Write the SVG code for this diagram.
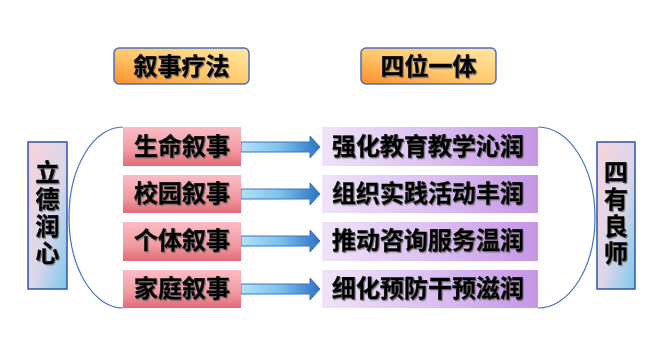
<svg xmlns="http://www.w3.org/2000/svg" width="664" height="360" viewBox="0 0 664 360">
<defs>
<linearGradient id="gTop" x1="0" y1="1" x2="1" y2="0">
<stop offset="0" stop-color="#f98d2c"/><stop offset="0.45" stop-color="#ffc66a"/><stop offset="1" stop-color="#ffe7a0"/>
</linearGradient>
<linearGradient id="gSide" x1="0" y1="0" x2="1" y2="1">
<stop offset="0" stop-color="#f7d3da"/><stop offset="0.55" stop-color="#dcd6ea"/><stop offset="1" stop-color="#7cc8ea"/>
</linearGradient>
<linearGradient id="gPink" x1="0" y1="0" x2="0" y2="1">
<stop offset="0" stop-color="#fbbcc4"/><stop offset="0.6" stop-color="#f19aa3"/><stop offset="1" stop-color="#e26a74"/>
</linearGradient>
<linearGradient id="gPurple" x1="0" y1="0" x2="1" y2="0">
<stop offset="0" stop-color="#efe3f8"/><stop offset="0.5" stop-color="#dcc0f2"/><stop offset="1" stop-color="#c596e6"/>
</linearGradient>
<linearGradient id="gArrow" x1="0" y1="0" x2="1" y2="0">
<stop offset="0" stop-color="#b4e2f6"/><stop offset="0.5" stop-color="#7cc0ea"/><stop offset="1" stop-color="#2a72c6"/>
</linearGradient>
<filter id="sh" x="-10%" y="-10%" width="120%" height="130%">
<feDropShadow dx="1" dy="1.2" stdDeviation="0.6" flood-color="#666" flood-opacity="0.8"/>
</filter>
<path id="arrow" d="M0,-5 H69 V-11 L79,0 L69,11 V5 H0 Z"/>
</defs>
<style>
text{font-family:"Noto Sans CJK SC","Noto Sans CJK JP",sans-serif;font-weight:700;fill:#000;stroke:#000;stroke-width:0.45;filter:url(#sh)}
.t{font-size:24px;text-anchor:middle}
.v{font-size:24px;writing-mode:vertical-rl;letter-spacing:3px}
.top{fill:url(#gTop);stroke:#4c6db8;stroke-width:1.5}
.side{fill:url(#gSide);stroke:#2f55a8;stroke-width:1.5}
.pink{fill:url(#gPink)}
.purple{fill:url(#gPurple)}
.arr{fill:url(#gArrow);stroke:#3a74c4;stroke-width:1}
.arc{fill:none;stroke:#4a72c4;stroke-width:1.2}
</style>
<rect width="664" height="360" fill="#fff"/>
<g id="connectors">
<path class="arc" d="M123,127 A54,90.5 0 0 0 123,308"/>
<path class="arc" d="M538,127 A57,90.5 0 0 1 538,308"/>
<use href="#arrow" class="arr" x="241" y="147"/>
<use href="#arrow" class="arr" x="241" y="194"/>
<use href="#arrow" class="arr" x="241" y="241"/>
<use href="#arrow" class="arr" x="241" y="289"/>
</g>
<g id="title-left"><rect class="top" x="114" y="48" width="135" height="36" rx="5"/><text class="t" x="181.5" y="75">叙事疗法</text></g>
<g id="title-right"><rect class="top" x="361" y="48" width="135" height="36" rx="5"/><text class="t" x="428.5" y="75">四位一体</text></g>
<g id="side-left"><rect class="side" x="28" y="142" width="39" height="147"/>
<text class="v" x="47.5" y="160">立德润心</text></g>
<g id="side-right"><rect class="side" x="597" y="142" width="38" height="147"/>
<text class="v" x="616" y="160">四有良师</text></g>
<g id="n1"><rect class="pink" x="123" y="127" width="118" height="39"/><text class="t" x="182" y="155">生命叙事</text></g>
<g id="n2"><rect class="pink" x="123" y="175" width="118" height="38"/><text class="t" x="182" y="202">校园叙事</text></g>
<g id="n3"><rect class="pink" x="123" y="222" width="118" height="39"/><text class="t" x="182" y="249">个体叙事</text></g>
<g id="n4"><rect class="pink" x="123" y="270" width="118" height="38"/><text class="t" x="182" y="297">家庭叙事</text></g>
<g id="m1"><rect class="purple" x="322" y="127" width="216" height="39"/><text class="t" x="428" y="155">强化教育教学沁润</text></g>
<g id="m2"><rect class="purple" x="322" y="175" width="216" height="38"/><text class="t" x="428" y="202">组织实践活动丰润</text></g>
<g id="m3"><rect class="purple" x="322" y="222" width="216" height="39"/><text class="t" x="428" y="249">推动咨询服务温润</text></g>
<g id="m4"><rect class="purple" x="322" y="270" width="216" height="38"/><text class="t" x="428" y="297">细化预防干预滋润</text></g>
</svg>
